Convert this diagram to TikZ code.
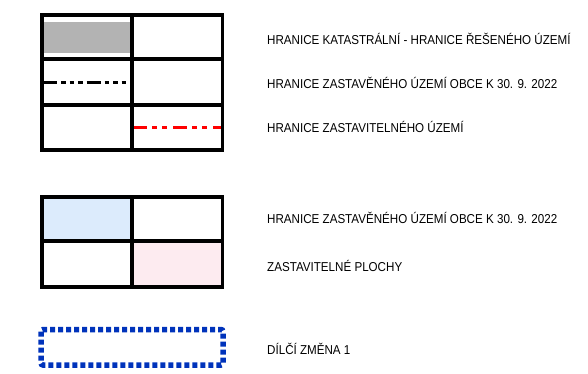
\documentclass[tikz,border=0pt]{standalone}
\usepackage{fontspec}
\setmainfont{Liberation Sans}[FakeStretch=0.9]
\definecolor{greyfill}{HTML}{B3B3B3}
\definecolor{bluefill}{HTML}{DCEBFC}
\definecolor{pinkfill}{HTML}{FDEBF0}
\definecolor{dotblue}{HTML}{0033BB}
\begin{document}
\begin{tikzpicture}[x=1pt,y=-1pt,
  grid/.style={line width=3.6pt, line cap=rect, line join=miter},
  legtext/.style={anchor=base west, inner sep=0pt, font=\fontsize{12.9}{14}\selectfont}]
\useasboundingbox (0,0) rectangle (588,374);
% top table
\fill[greyfill] (43,22) rectangle (130,53);
\draw[line width=3pt, dash pattern=on 14pt off 4pt on 4.5pt off 4pt on 4.5pt off 4pt on 4.5pt off 4pt] (43,83) -- (130,83);
\draw[red, line width=3pt, dash pattern=on 14pt off 5pt on 5pt off 5pt on 5pt off 6pt] (133,128) -- (222,128);
\draw[grid] (42,15) rectangle (222.5,150);
\draw[grid] (132,15) -- (132,150);
\draw[grid] (42,59) -- (222.5,59);
\draw[grid] (42,105) -- (222.5,105);
% middle table
\fill[bluefill] (42,197) rectangle (132,241);
\fill[pinkfill] (132,241) rectangle (222.5,287);
\draw[grid] (42,197) rectangle (222.5,287);
\draw[grid] (132,197) -- (132,287);
\draw[grid] (42,241) -- (222.5,241);
% dotted box
\draw[dotblue, line width=5.5pt, dash pattern=on 5pt off 3pt, rounded corners=2pt] (41,329.5) rectangle (223,365);
% texts
\node[legtext] (t1) at (267,45) {HRANICE KATASTRÁLNÍ - HRANICE ŘEŠENÉHO ÚZEMÍ};
\node[legtext] (t2) at (267,89) {HRANICE ZASTAVĚNÉHO ÚZEMÍ OBCE K 30. 9. 2022};
\node[legtext] (t3) at (267,133) {HRANICE ZASTAVITELNÉHO ÚZEMÍ};
\node[legtext] (t4) at (267,223) {HRANICE ZASTAVĚNÉHO ÚZEMÍ OBCE K 30. 9. 2022};
\node[legtext] (t5) at (267,271) {ZASTAVITELNÉ PLOCHY};
\node[legtext] (t6) at (267,354) {DÍLČÍ ZMĚNA 1};
\end{tikzpicture}
\end{document}
